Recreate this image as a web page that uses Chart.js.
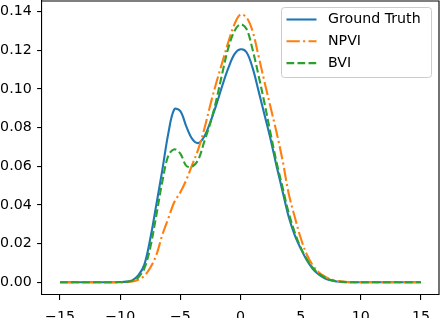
<!DOCTYPE html>
<html><head><meta charset="utf-8">
<script src="https://cdn.jsdelivr.net/npm/chart.js@4/dist/chart.umd.min.js"></script>
<style>html,body{margin:0;padding:0;background:#fff}#wrap{width:440px;height:318px}</style>
</head><body><div id="wrap"><canvas id="c" width="440" height="318"></canvas></div>
<script>
const xValues = [-15,-14.5,-14,-13.5,-13,-12.5,-12,-11.5,-11,-10.5,-10,-9.5,-9,-8.5,-8,-7.5,-7,-6.5,-6,-5.5,-5,-4.5,-4,-3.5,-3,-2.5,-2,-1.5,-1,-0.5,0,0.5,1,1.5,2,2.5,3,3.5,4,4.5,5,5.5,6,6.5,7,7.5,8,8.5,9,9.5,10,10.5,11,11.5,12,12.5,13,13.5,14,14.5,15];
const groundTruth = [0,0,0,0,0,0,0,0,0,0,0.0001,0.0003,0.001,0.0035,0.009,0.0225,0.040,0.058,0.077,0.0895,0.0885,0.0805,0.074,0.072,0.0755,0.083,0.092,0.102,0.111,0.118,0.1205,0.119,0.111,0.099,0.0865,0.074,0.060,0.047,0.034,0.0245,0.0175,0.0115,0.007,0.004,0.002,0.001,0.0004,0.0001,0,0,0,0,0,0,0,0,0,0,0,0,0];
const npvi = [0,0,0,0,0,0,0,0,0,0,0,0.0001,0.0004,0.0013,0.0033,0.0075,0.014,0.0245,0.033,0.0415,0.0465,0.053,0.061,0.069,0.0795,0.092,0.1035,0.114,0.1245,0.1335,0.1385,0.137,0.130,0.117,0.1035,0.0905,0.0775,0.063,0.046,0.034,0.023,0.0145,0.0088,0.0052,0.003,0.0015,0.0007,0.0003,0.0001,0,0,0,0,0,0,0,0,0,0,0,0];
const bvi = [0,0,0,0,0,0,0,0,0,0,0,0.0002,0.0007,0.0025,0.007,0.018,0.0345,0.052,0.0655,0.0688,0.0665,0.0602,0.0599,0.0635,0.073,0.0825,0.0945,0.1085,0.1215,0.130,0.1335,0.131,0.1205,0.107,0.0925,0.077,0.062,0.049,0.036,0.026,0.018,0.012,0.0075,0.0045,0.0025,0.0012,0.0005,0.0002,0,0,0,0,0,0,0,0,0,0,0,0,0];
const seriesNames = ['Ground Truth','NPVI','BVI'];
const xTicks = [-15,-10,-5,0,5,10,15];
const xTickLabels = ['\u221215','\u221210','\u22125','0','5','10','15'];
const yTicks = [0,0.02,0.04,0.06,0.08,0.10,0.12,0.14];
const yTickLabels = ['0.00','0.02','0.04','0.06','0.08','0.10','0.12','0.14'];

const FONT = 'DejaVu Sans';
const FS = 14.2;
const pts = ys => xValues.map((x,i)=>({x:x, y:ys[i]}));

const framePlugin = {
  id:'frame',
  beforeDraw(chart){
    const c = chart.ctx; c.save(); c.fillStyle='#fff'; c.fillRect(0,0,chart.width,chart.height); c.restore();
  },
  afterDraw(chart){
    const c = chart.ctx, a = chart.chartArea;
    c.save();
    c.strokeStyle='#000'; c.lineWidth=1.1;
    c.beginPath();
    c.moveTo(a.left, a.top); c.lineTo(a.right, a.top); c.lineTo(a.right, a.bottom);
    c.stroke();
    const bx=281.5, by=7.5, bw=150, bh=70, r=3;
    c.beginPath();
    c.moveTo(bx+r,by); c.lineTo(bx+bw-r,by); c.arcTo(bx+bw,by,bx+bw,by+r,r);
    c.lineTo(bx+bw,by+bh-r); c.arcTo(bx+bw,by+bh,bx+bw-r,by+bh,r);
    c.lineTo(bx+r,by+bh); c.arcTo(bx,by+bh,bx,by+bh-r,r);
    c.lineTo(bx,by+r); c.arcTo(bx,by,bx+r,by,r); c.closePath();
    c.fillStyle='rgba(255,255,255,0.8)'; c.fill();
    c.strokeStyle='#cccccc'; c.lineWidth=1; c.stroke();
    chart.data.datasets.forEach((ds,i)=>{
      const y = 19.5 + i*21.8;
      c.save();
      c.strokeStyle=ds.borderColor; c.lineWidth=ds.borderWidth; c.setLineDash(ds.borderDash||[]);
      c.beginPath(); c.moveTo(286.5,y); c.lineTo(316.5,y); c.stroke();
      c.restore();
      c.fillStyle='#000'; c.font=FS+'px "'+FONT+'"'; c.textBaseline='middle'; c.textAlign='left';
      c.fillText(ds.label, 328, y);
    });
    c.restore();
  }
};

new Chart(document.getElementById('c'), {
  type:'line',
  data:{ datasets:[
    {label:seriesNames[0], data:pts(groundTruth), borderColor:'#1f77b4', borderWidth:2.1, borderDash:[], order:3},
    {label:seriesNames[1], data:pts(npvi), borderColor:'#ff7f0e', borderWidth:2.1, borderDash:[13.3,3.3,2.1,3.3], order:2},
    {label:seriesNames[2], data:pts(bvi), borderColor:'#2ca02c', borderWidth:2.1, borderDash:[7.7,3.3], order:1}
  ]},
  options:{
    responsive:false, animation:false, devicePixelRatio:1,
    layout:{padding:{top:1,right:1,left:0,bottom:0}},
    elements:{point:{radius:0}, line:{tension:0.35, fill:false}},
    plugins:{legend:{display:false}, tooltip:{enabled:false}},
    scales:{
      x:{type:'linear', min:-16.5, max:16.5,
        afterBuildTicks:s=>{s.ticks = xTicks.map(v=>({value:v}));},
        afterFit:s=>{s.height=23; s.paddingLeft=0; s.paddingRight=0;},
        ticks:{autoSkip:false, maxRotation:0, padding:8.5, color:'#000', font:{family:FONT,size:FS},
          callback:v=>xTickLabels[xTicks.indexOf(v)]},
        grid:{display:true, drawOnChartArea:false, drawTicks:true, tickLength:4.9, color:'#000', lineWidth:1.1},
        border:{display:true, color:'#000', width:1.1}
      },
      y:{type:'linear', min:-0.0066, max:0.1455,
        afterBuildTicks:s=>{s.ticks = yTicks.map(v=>({value:v}));},
        afterFit:s=>{s.width=42; s.paddingTop=0; s.paddingBottom=0;},
        ticks:{autoSkip:false, padding:5.4, color:'#000', font:{family:FONT,size:FS},
          callback:v=>yTickLabels[yTicks.indexOf(v)]},
        grid:{display:true, drawOnChartArea:false, drawTicks:true, tickLength:4.9, color:'#000', lineWidth:1.1},
        border:{display:true, color:'#000', width:1.1}
      }
    }
  },
  plugins:[framePlugin]
});
</script></body></html>
